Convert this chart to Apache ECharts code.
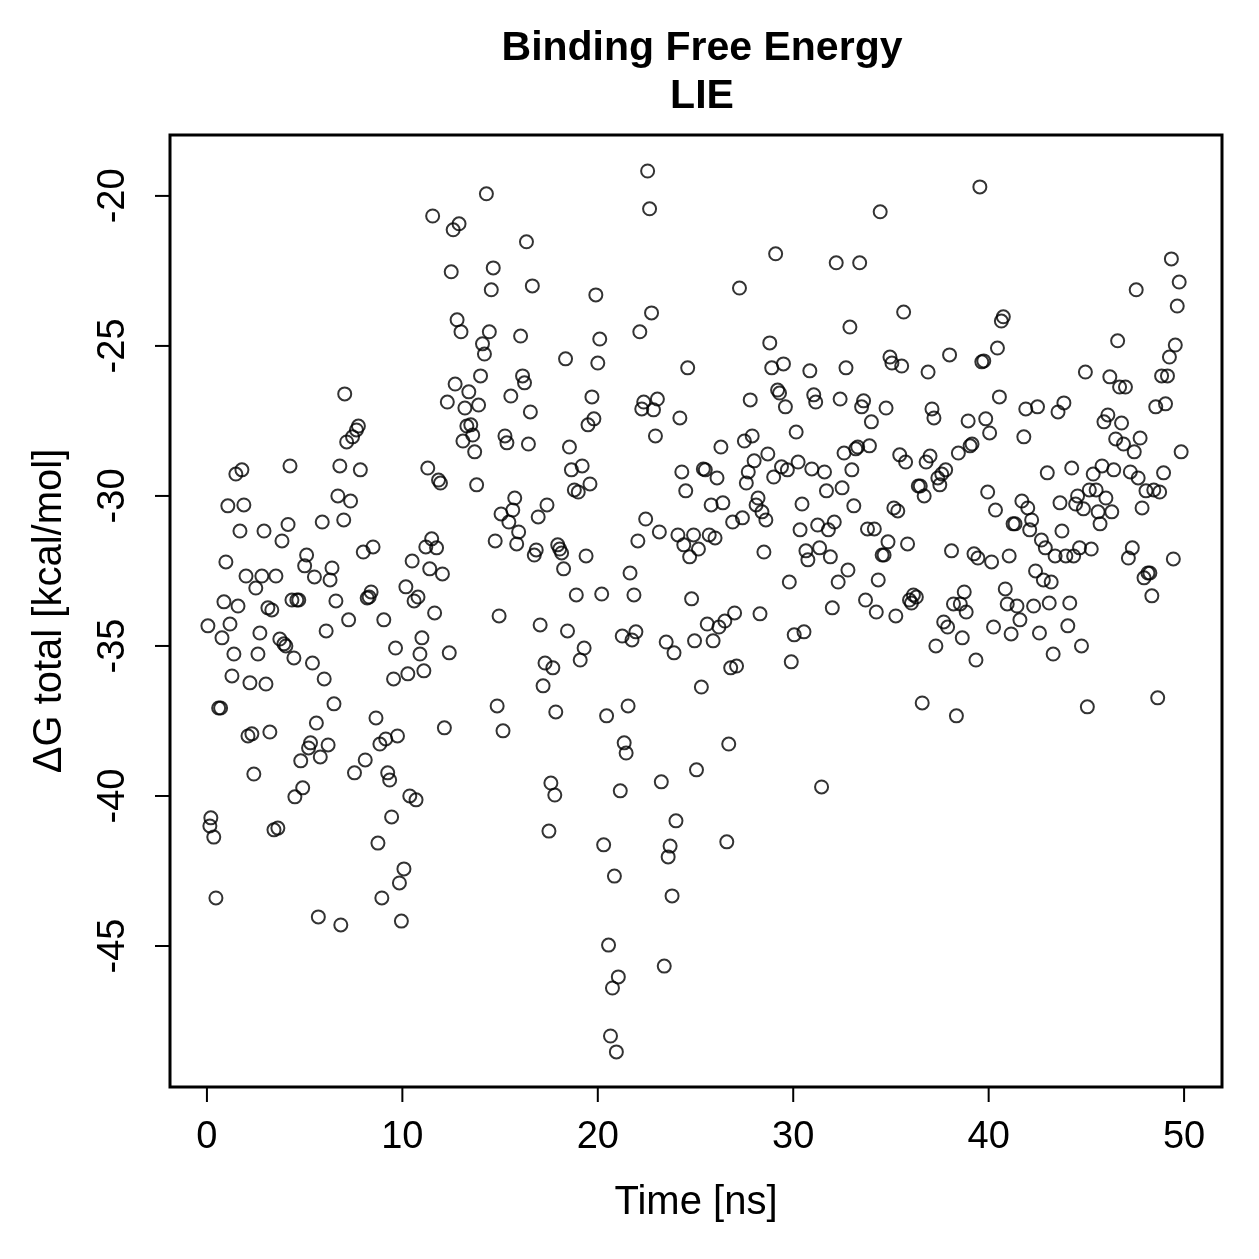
<!DOCTYPE html>
<html>
<head>
<meta charset="utf-8">
<script src="https://cdn.jsdelivr.net/npm/echarts@6/dist/echarts.min.js"></script>
<style>
  html, body { margin: 0; padding: 0; background: #fff; }
  #chart { width: 1259px; height: 1259px; }
</style>
</head>
<body>
<div id="chart"></div>
<script>
// time [ns] of each frame
const time = [
  0.05, 0.2, 0.15, 0.35, 0.46, 0.6, 0.7, 0.77, 0.87, 0.97,
  1.07, 1.18, 1.28, 1.38, 1.48, 1.59, 1.69, 1.79, 1.89, 2.0,
  2.1, 2.2, 2.3, 2.4, 2.5, 2.61, 2.71, 2.81, 2.92, 3.02,
  3.12, 3.22, 3.32, 3.43, 3.53, 3.63, 3.73, 3.84, 3.94, 4.04,
  4.15, 4.25, 4.35, 4.45, 4.5, 4.6, 4.7, 4.8, 4.9, 5.0,
  5.1, 5.2, 5.3, 5.4, 5.5, 5.6, 5.7, 5.8, 5.9, 6.0,
  6.1, 6.2, 6.3, 6.4, 6.5, 6.6, 6.7, 6.8, 6.85, 7.0,
  7.05, 7.15, 7.25, 7.35, 7.45, 7.55, 7.65, 7.75, 7.85, 8.0,
  8.1, 8.2, 8.3, 8.4, 8.5, 8.65, 8.75, 8.85, 8.95, 9.05,
  9.15, 9.25, 9.35, 9.45, 9.55, 9.65, 9.75, 9.85, 9.95, 10.08,
  10.18, 10.28, 10.38, 10.5, 10.6, 10.7, 10.8, 10.9, 11.0, 11.1,
  11.2, 11.3, 11.4, 11.5, 11.55, 11.65, 11.75, 11.85, 11.95, 12.05,
  12.15, 12.3, 12.4, 12.5, 12.6, 12.7, 12.8, 12.9, 13.0, 13.1,
  13.2, 13.3, 13.4, 13.5, 13.6, 13.7, 13.8, 13.9, 14.0, 14.1,
  14.2, 14.3, 14.45, 14.55, 14.65, 14.75, 14.85, 14.95, 15.05, 15.15,
  15.25, 15.35, 15.45, 15.55, 15.65, 15.75, 15.85, 15.95, 16.05, 16.15,
  16.25, 16.35, 16.45, 16.55, 16.65, 16.75, 16.85, 16.95, 17.05, 17.2,
  17.3, 17.4, 17.5, 17.6, 17.7, 17.8, 17.85, 17.95, 18.05, 18.15,
  18.25, 18.35, 18.45, 18.55, 18.65, 18.8, 18.9, 19.0, 19.1, 19.2,
  19.3, 19.4, 19.5, 19.6, 19.7, 19.8, 19.9, 20.0, 20.1, 20.2,
  20.3, 20.45, 20.55, 20.65, 20.75, 20.85, 20.95, 21.05, 21.15, 21.25,
  21.35, 21.45, 21.55, 21.65, 21.75, 21.85, 21.95, 22.05, 22.15, 22.25,
  22.35, 22.45, 22.55, 22.65, 22.75, 22.85, 22.95, 23.05, 23.15, 23.25,
  23.4, 23.5, 23.6, 23.7, 23.8, 23.9, 24.0, 24.1, 24.2, 24.3,
  24.4, 24.5, 24.6, 24.7, 24.8, 24.9, 24.95, 25.05, 25.15, 25.3,
  25.4, 25.5, 25.6, 25.7, 25.8, 25.9, 26.0, 26.1, 26.2, 26.3,
  26.4, 26.5, 26.6, 26.7, 26.8, 26.9, 27.0, 27.1, 27.25, 27.4,
  27.5, 27.6, 27.7, 27.8, 27.9, 28.0, 28.1, 28.2, 28.3, 28.4,
  28.5, 28.6, 28.7, 28.8, 28.9, 29.0, 29.1, 29.2, 29.3, 29.4,
  29.5, 29.6, 29.7, 29.8, 29.9, 30.05, 30.15, 30.25, 30.35, 30.45,
  30.55, 30.65, 30.75, 30.85, 30.95, 31.05, 31.15, 31.25, 31.35, 31.45,
  31.6, 31.7, 31.8, 31.9, 32.0, 32.1, 32.2, 32.3, 32.4, 32.5,
  32.6, 32.7, 32.8, 32.9, 33.0, 33.1, 33.2, 33.3, 33.4, 33.5,
  33.6, 33.7, 33.8, 33.9, 34.0, 34.15, 34.25, 34.35, 34.45, 34.55,
  34.65, 34.75, 34.85, 34.95, 35.05, 35.15, 35.25, 35.35, 35.45, 35.55,
  35.65, 35.75, 35.85, 35.95, 36.05, 36.15, 36.3, 36.4, 36.5, 36.6,
  36.7, 36.8, 36.9, 37.0, 37.1, 37.2, 37.3, 37.4, 37.5, 37.6,
  37.7, 37.8, 37.9, 38.0, 38.1, 38.2, 38.35, 38.45, 38.55, 38.65,
  38.75, 38.85, 38.95, 39.05, 39.15, 39.25, 39.35, 39.45, 39.55, 39.65,
  39.75, 39.85, 39.95, 40.05, 40.15, 40.25, 40.35, 40.45, 40.55, 40.65,
  40.75, 40.85, 40.95, 41.05, 41.15, 41.25, 41.35, 41.45, 41.6, 41.7,
  41.8, 41.9, 42.0, 42.1, 42.2, 42.3, 42.4, 42.5, 42.6, 42.7,
  42.8, 42.9, 43.0, 43.1, 43.2, 43.3, 43.4, 43.55, 43.65, 43.75,
  43.85, 43.95, 44.05, 44.15, 44.25, 44.35, 44.45, 44.55, 44.65, 44.75,
  44.85, 44.95, 45.05, 45.15, 45.25, 45.35, 45.5, 45.6, 45.7, 45.8,
  45.9, 46.0, 46.1, 46.2, 46.3, 46.4, 46.5, 46.6, 46.7, 46.8,
  46.9, 47.0, 47.15, 47.25, 47.35, 47.45, 47.55, 47.65, 47.75, 47.85,
  47.95, 48.05, 48.15, 48.25, 48.35, 48.45, 48.55, 48.65, 48.75, 48.85,
  48.95, 49.05, 49.15, 49.25, 49.35, 49.45, 49.55, 49.65, 49.75, 49.85
];

// dG total [kcal/mol], same order as time
const dG = [
  -34.33, -40.73, -41.0, -41.37, -43.4, -37.07, -37.07, -34.73, -33.53, -32.2,
  -30.33, -34.27, -36.0, -35.27, -29.27, -33.67, -31.17, -29.13, -30.3, -32.67,
  -38.0, -36.23, -37.93, -39.27, -33.07, -35.27, -34.57, -32.67, -31.17, -36.27,
  -33.73, -37.87, -33.8, -41.13, -32.67, -41.07, -34.77, -31.5, -34.93, -35.0,
  -30.95, -29.0, -33.47, -35.4, -40.03, -33.47, -33.47, -38.83, -39.73, -32.33,
  -31.97, -38.4, -38.23, -35.57, -32.7, -37.57, -44.03, -38.7, -30.87, -36.1,
  -34.5, -38.3, -32.8, -32.4, -36.93, -33.5, -30.0, -29.0, -44.3, -30.8,
  -26.6, -28.2, -34.13, -30.17, -28.03, -39.23, -27.8, -27.67, -29.13, -31.87,
  -38.8, -33.4, -33.37, -33.2, -31.7, -37.4, -41.57, -38.27, -43.4, -34.13,
  -38.1, -39.23, -39.47, -40.7, -36.1, -35.07, -38.0, -42.9, -44.17, -42.43,
  -33.03, -35.93, -40.0, -32.17, -33.5, -40.13, -33.37, -35.27, -34.73, -35.83,
  -31.7, -29.07, -32.43, -31.43, -20.67, -33.9, -31.73, -29.47, -29.57, -32.6,
  -37.73, -26.87, -35.23, -22.53, -21.13, -26.27, -24.13, -20.93, -24.53, -28.17,
  -27.07, -27.67, -26.53, -27.63, -27.97, -28.53, -29.63, -26.97, -26.0, -24.93,
  -25.27, -19.93, -24.53, -23.13, -22.4, -31.5, -37.0, -34.0, -30.6, -37.83,
  -28.0, -28.23, -30.87, -26.67, -30.47, -30.07, -31.6, -31.2, -24.67, -26.0,
  -26.23, -21.53, -28.27, -27.2, -23.0, -31.97, -31.8, -30.7, -34.3, -36.33,
  -35.57, -30.3, -41.17, -39.57, -35.73, -39.97, -37.2, -31.63, -31.77, -31.9,
  -32.43, -25.43, -34.5, -28.37, -29.13, -29.8, -33.3, -29.87, -35.47, -29.0,
  -35.07, -32.0, -27.63, -29.6, -26.7, -27.43, -23.3, -25.57, -24.77, -33.27,
  -41.63, -37.33, -44.97, -48.0, -46.4, -42.67, -48.53, -46.03, -39.83, -34.67,
  -38.23, -38.57, -37.0, -32.57, -34.8, -33.3, -34.53, -31.5, -24.53, -27.1,
  -26.87, -30.77, -19.17, -20.43, -23.9, -27.13, -28.0, -26.77, -31.2, -39.53,
  -45.67, -34.87, -42.03, -41.67, -43.33, -35.23, -40.83, -31.3, -27.4, -29.2,
  -31.63, -29.83, -25.73, -32.03, -33.43, -31.3, -34.83, -39.13, -31.77, -36.37,
  -29.1, -29.13, -34.27, -31.3, -30.3, -34.83, -31.4, -29.4, -34.37, -28.37,
  -30.23, -34.17, -41.53, -38.27, -35.73, -30.87, -33.9, -35.67, -23.07, -30.73,
  -28.17, -29.57, -29.2, -26.8, -28.0, -28.83, -30.3, -30.07, -33.93, -30.53,
  -31.87, -30.8, -28.6, -24.9, -25.73, -29.37, -21.93, -26.47, -26.57, -29.03,
  -25.6, -27.03, -29.13, -32.87, -35.53, -34.63, -27.87, -28.87, -31.13, -30.27,
  -34.53, -31.83, -32.13, -25.83, -29.1, -26.63, -26.87, -30.97, -31.73, -39.7,
  -29.2, -29.83, -31.13, -32.03, -33.73, -30.87, -22.23, -32.87, -26.77, -29.73,
  -28.57, -25.73, -32.47, -24.37, -29.13, -30.33, -28.43, -28.37, -22.23, -27.03,
  -26.83, -33.47, -31.1, -28.33, -27.53, -31.1, -33.87, -32.8, -20.53, -31.97,
  -31.97, -27.07, -31.53, -25.37, -25.57, -30.4, -34.0, -30.5, -28.63, -25.67,
  -23.87, -28.87, -31.6, -33.47, -33.57, -33.3, -33.37, -29.67, -29.67, -36.9,
  -30.0, -28.87, -25.87, -28.67, -27.1, -27.4, -35.0, -29.4, -29.63, -29.27,
  -34.2, -29.13, -34.37, -25.3, -31.83, -33.6, -37.33, -28.57, -33.6, -34.73,
  -33.2, -33.87, -27.5, -28.33, -28.27, -31.93, -35.47, -32.07, -19.7, -25.53,
  -25.5, -27.43, -29.87, -27.9, -32.2, -34.37, -30.47, -25.07, -26.7, -24.17,
  -24.03, -33.1, -33.6, -32.0, -34.6, -30.93, -30.93, -33.67, -34.13, -30.17,
  -28.03, -27.1, -30.4, -31.13, -30.8, -33.67, -32.5, -27.03, -34.57, -31.47,
  -32.8, -31.73, -29.23, -33.57, -32.87, -35.27, -32.0, -27.2, -30.23, -31.17,
  -26.9, -32.0, -34.33, -33.57, -29.07, -32.0, -30.27, -30.0, -31.73, -35.0,
  -30.43, -25.87, -37.03, -29.8, -31.77, -29.27, -29.8, -30.53, -30.93, -29.0,
  -27.53, -30.07, -27.3, -26.03, -30.53, -29.13, -28.1, -24.83, -26.37, -27.57,
  -28.27, -26.37, -32.07, -29.2, -31.73, -28.53, -23.13, -29.4, -28.07, -30.4,
  -32.73, -29.83, -32.57, -32.57, -33.33, -29.8, -27.03, -36.73, -29.87, -26.0,
  -29.23, -26.93, -26.0, -25.37, -22.1, -32.1, -24.97, -23.67, -22.87, -28.53
];

const xTicks = [0, 10, 20, 30, 40, 50];
const yTicks = [-45, -40, -35, -30, -25, -20];

const xMin = -1.89, xMax = 51.94;
const yMin = -49.7, yMax = -17.97;

const points = time.map((t, i) => [t, dG[i]]);

const chart = echarts.init(document.getElementById('chart'), null, { renderer: 'canvas' });

const font = 'Liberation Sans, Arial, Helvetica, sans-serif';
const tickLen = 15;

// outward tick marks, placed through the axes' own scales
function tickSeries(values, isX) {
  return {
    type: 'custom',
    clip: false,
    silent: true,
    data: values.map(v => [v]),
    renderItem(params, api) {
      const v = api.value(0);
      const p = isX ? api.coord([v, yMin]) : api.coord([xMin, v]);
      const shape = isX
        ? { x1: p[0], y1: p[1], x2: p[0], y2: p[1] + tickLen }
        : { x1: p[0], y1: p[1], x2: p[0] - tickLen, y2: p[1] };
      return {
        type: 'line',
        shape: shape,
        style: { stroke: '#000', lineWidth: 2 }
      };
    }
  };
}

chart.setOption({
  animation: false,
  backgroundColor: '#ffffff',
  textStyle: { fontFamily: font, color: '#000' },
  title: {
    text: 'Binding Free Energy\nLIE',
    left: 697,
    top: 20,
    textAlign: 'center',
    textStyle: {
      fontFamily: font,
      fontWeight: 'bold',
      fontSize: 41,
      lineHeight: 48,
      color: '#000'
    }
  },
  grid: {
    left: 170,
    top: 135,
    right: 37,
    bottom: 172,
    show: true,
    borderColor: '#000',
    borderWidth: 3,
    backgroundColor: 'transparent'
  },
  xAxis: {
    type: 'value',
    min: xMin,
    max: xMax,
    name: 'Time [ns]',
    nameLocation: 'middle',
    nameGap: 96,
    nameTextStyle: { fontFamily: font, fontSize: 40, color: '#000' },
    splitLine: { show: false },
    axisLine: { show: false, onZero: false },
    axisTick: { show: false },
    axisLabel: {
      customValues: xTicks,
      margin: 32,
      fontFamily: font,
      fontSize: 38,
      color: '#000'
    }
  },
  yAxis: {
    type: 'value',
    min: yMin,
    max: yMax,
    name: 'ΔG total [kcal/mol]',
    nameLocation: 'middle',
    nameGap: 100,
    nameRotate: 90,
    nameTextStyle: { fontFamily: font, fontSize: 40, color: '#000' },
    splitLine: { show: false },
    axisLine: { show: false, onZero: false },
    axisTick: { show: false },
    axisLabel: {
      customValues: yTicks,
      rotate: 90,
      margin: 37,
      fontFamily: font,
      fontSize: 38,
      color: '#000'
    }
  },
  series: [
    {
      type: 'scatter',
      data: points,
      symbol: 'circle',
      symbolSize: 13,
      itemStyle: {
        color: 'rgba(0,0,0,0)',
        borderColor: '#000',
        borderWidth: 2
      },
      emphasis: { disabled: true }
    },
    tickSeries(xTicks, true),
    tickSeries(yTicks, false)
  ]
});
</script>
</body>
</html>
